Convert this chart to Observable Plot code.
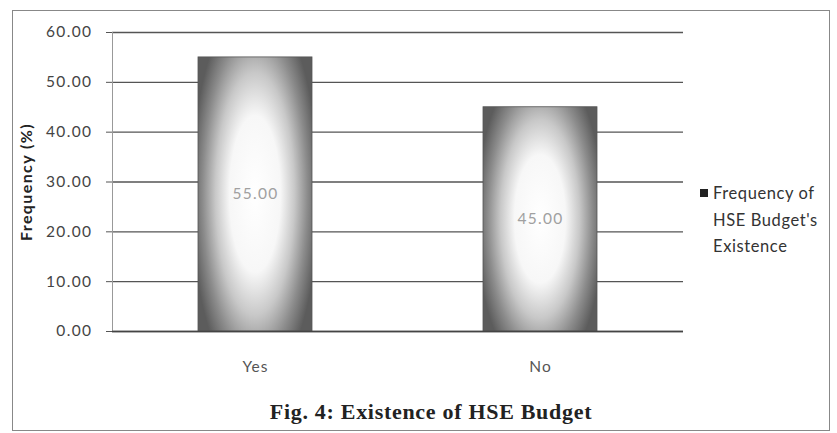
<!DOCTYPE html>
<html>
<head>
<meta charset="utf-8">
<script src="https://cdn.jsdelivr.net/npm/d3@7"></script>
<script src="https://cdn.jsdelivr.net/npm/@observablehq/plot@0.6"></script>
<style>
  html, body { margin: 0; padding: 0; background: #fff; }
  #wrap { position: relative; width: 837px; height: 433px; overflow: hidden; background: #fff; }
  #frame { position: absolute; left: 12px; top: 10px; width: 818px; height: 421px; border: 1.5px solid #888; box-sizing: border-box; }
  #chart { position: absolute; left: 0; top: 0; }
  #legend { position: absolute; left: 700px; top: 180px; font-family: Lato, "Open Sans", sans-serif; font-size: 16.5px; letter-spacing: 0.6px; color: #333; line-height: 26.5px; }
  #legend .sw { position: absolute; left: 0; top: 9px; width: 8px; height: 8px; background: #222; }
  #legend .tx { margin-left: 13px; }
  #caption { position: absolute; left: 0; top: 399px; width: 862px; text-align: center; font-family: "Liberation Serif", "Times New Roman", serif; font-weight: bold; font-size: 22px; letter-spacing: 0.7px; color: #222; }
  g[aria-label="y-axis label"] text { font-weight: bold; font-size: 16px; letter-spacing: 1.4px; fill: #222; }
  g[aria-label="y-axis tick label"] text { letter-spacing: 1.4px; }
  g[aria-label="x-axis tick label"] text { letter-spacing: 1px; }
  g[aria-label="text"] text { letter-spacing: 1.3px; }
</style>
</head>
<body>
<div id="wrap">
  <div id="frame"></div>
  <div id="chart"></div>
  <div id="legend"><div class="sw"></div><div class="tx">Frequency of<br>HSE Budget's<br>Existence</div></div>
  <div id="caption">Fig. 4: Existence of HSE Budget</div>
</div>
<script>
const categories = ["Yes", "No"];
const values = [55.00, 45.00];
const yTicks = [0, 10, 20, 30, 40, 50, 60];
const seriesName = "Frequency of HSE Budget's Existence";

const data = categories.map((c, i) => ({category: c, value: values[i]}));

const plot = Plot.plot({
  width: 837,
  height: 400,
  marginLeft: 112,
  marginRight: 154,
  marginTop: 32,
  marginBottom: 69,
  style: {fontFamily: "Lato, 'Open Sans', sans-serif", fontSize: "15.5px", color: "#444", background: "transparent"},
  x: {domain: categories, paddingInner: 0.6, paddingOuter: 0.3, label: null},
  y: {domain: [0, 60], label: null},
  marks: [
    Plot.gridY(yTicks, {stroke: "#555", strokeOpacity: 1, strokeWidth: 1.3}),
    Plot.frame({anchor: "left", stroke: "#999", strokeWidth: 1}),
    Plot.axisY(yTicks, {
      tickFormat: d3.format(".2f"), tickSize: 6, tickPadding: 14, stroke: "#555", fill: "#444",
      label: "Frequency (%)", labelAnchor: "center", labelOffset: 92, labelArrow: "none"
    }),
    Plot.axisX({tickSize: 0, tickPadding: 29, fill: "#555"}),
    Plot.barY(data, {x: "category", y: "value", fill: "url(#barGrad)", stroke: "#555", strokeWidth: 0.8}),
    Plot.ruleY([0], {stroke: "#444", strokeWidth: 1.3}),
    Plot.text(data, {x: "category", y: d => d.value / 2, text: d => d3.format(".2f")(d.value), fill: "#a0a0a0", fontSize: 15.5})
  ]
});

const ns = "http://www.w3.org/2000/svg";
const defs = document.createElementNS(ns, "defs");
const grad = document.createElementNS(ns, "radialGradient");
grad.setAttribute("id", "barGrad");
grad.setAttribute("cx", "0.5");
grad.setAttribute("cy", "0.5");
grad.setAttribute("r", "0.7");
grad.setAttribute("gradientTransform", "translate(0.5,0.5) scale(0.8,1.02) translate(-0.5,-0.5)");
[["0", "#ffffff"], ["0.4", "#f7f7f7"], ["0.62", "#c8c8c8"], ["0.82", "#8c8c8c"], ["1", "#5c5c5c"]].forEach(([o, c]) => {
  const s = document.createElementNS(ns, "stop");
  s.setAttribute("offset", o);
  s.setAttribute("stop-color", c);
  grad.appendChild(s);
});
defs.appendChild(grad);
plot.insertBefore(defs, plot.firstChild);
document.getElementById("chart").appendChild(plot);
</script>
</body>
</html>
